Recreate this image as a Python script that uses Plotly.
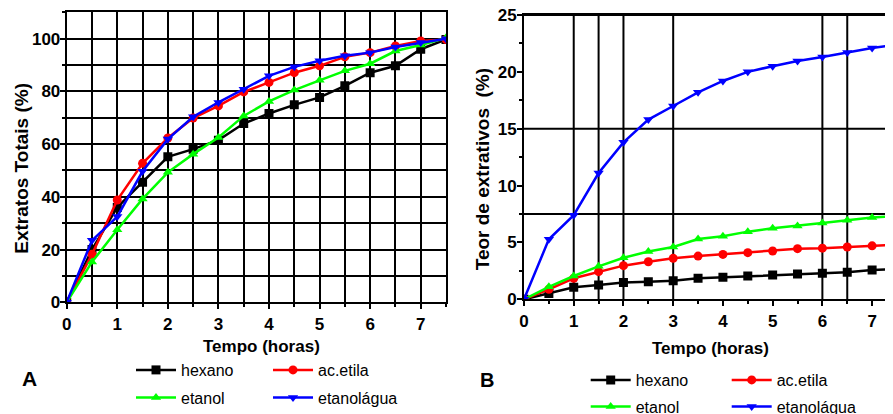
import plotly.graph_objects as go

# ---------------- data ----------------
tempo = [0, 0.5, 1, 1.5, 2, 2.5, 3, 3.5, 4, 4.5, 5, 5.5, 6, 6.5, 7, 7.5]
series_names = ["hexano", "ac.etila", "etanol", "etanolágua"]

# Panel A: Extratos Totais (%)
totais_hexano = [0, 20, 36, 45.5, 55.2, 58.1, 61.5, 67.8, 71.6, 74.9, 77.7, 82.1, 87.1, 89.7, 96, 99.7]
totais_acetila = [0, 18.2, 38.8, 52.7, 62.3, 69.9, 74.5, 79.8, 83.4, 87.1, 89.7, 93.1, 94.7, 97.2, 99.1, 99.7]
totais_etanol = [0, 15.3, 27.5, 39.2, 49.3, 56.2, 62.5, 70.7, 76.2, 80.5, 84.2, 87.8, 90.5, 95.3, 97.6, 100.3]
totais_etanolagua = [0, 23.5, 32.5, 49.7, 61.9, 70.4, 75.8, 80.8, 85.9, 89.3, 91.6, 93.5, 94.7, 96.8, 98.5, 100]

# Panel B: Teor de extrativos (%)
teor_hexano = [0, 0.5, 1.05, 1.26, 1.47, 1.55, 1.64, 1.85, 1.93, 2.05, 2.14, 2.23, 2.29, 2.37, 2.58, 2.64]
teor_acetila = [0, 0.88, 1.85, 2.43, 2.96, 3.3, 3.6, 3.8, 3.95, 4.1, 4.25, 4.45, 4.5, 4.6, 4.7, 4.8]
teor_etanol = [0, 1.1, 2.05, 2.9, 3.65, 4.2, 4.6, 5.3, 5.55, 5.95, 6.25, 6.45, 6.7, 6.95, 7.2, 7.3]
teor_etanolagua = [0, 5.28, 7.4, 11.1, 13.8, 15.8, 17.0, 18.2, 19.2, 20.0, 20.5, 20.95, 21.3, 21.7, 22.1, 22.4]

x_ticks = [0, 1, 2, 3, 4, 5, 6, 7]
ya_ticks = [0, 20, 40, 60, 80, 100]
yb_ticks = [0, 5, 10, 15, 20, 25]
# irregular grid of panel B
gridB_x = [1, 1.5, 2, 3, 6, 6.5]
gridB_y = [7.5, 15]

# ---------------- style ----------------
colors = ["#000000", "#ff0000", "#00ff00", "#0000ff"]
symbols = ["square", "circle", "triangle-up", "triangle-down"]
FR = "Liberation Sans, Arial, sans-serif"
W, H = 893, 414
OFF = 8  # page body margin in the browser

totais = [totais_hexano, totais_acetila, totais_etanol, totais_etanolagua]
teor = [teor_hexano, teor_acetila, teor_etanol, teor_etanolagua]

fig = go.Figure()
for i, name in enumerate(series_names):
    fig.add_trace(go.Scatter(
        x=tempo, y=totais[i], name=name, mode="lines+markers",
        line=dict(color=colors[i], width=2.5),
        marker=dict(symbol=symbols[i], size=9, color=colors[i]),
        xaxis="x", yaxis="y", legend="legend" if i < 2 else "legend2",
    ))
for i, name in enumerate(series_names):
    fig.add_trace(go.Scatter(
        x=tempo, y=teor[i], name=name, mode="lines+markers",
        line=dict(color=colors[i], width=2.5),
        marker=dict(symbol=symbols[i], size=9, color=colors[i]),
        xaxis="x2", yaxis="y2", legend="legend3" if i < 2 else "legend4",
    ))

tickfont = dict(family=FR, size=17, color="black", weight="bold")

def px_x(p):
    return (p - OFF) / W

def px_y(p):
    return 1 - (p - OFF) / H

common_axis = dict(showline=True, linecolor="black", linewidth=2, ticks="outside",
                   tickcolor="black", tickwidth=2, ticklen=5, tickfont=tickfont,
                   zeroline=False, automargin=False, ticklabeloverflow="allow")
GW = 2

fig.update_layout(
    template="none",
    width=W, height=H,
    margin=dict(l=0, r=0, t=0, b=0, autoexpand=False),
    paper_bgcolor="white", plot_bgcolor="white",
    xaxis=dict(domain=[px_x(66.7), px_x(446)], range=[0, 7.5], tickvals=x_ticks,
               showgrid=True, gridcolor="black", gridwidth=GW, mirror=True,
               minor=dict(dtick=0.5, showgrid=True, gridcolor="black", gridwidth=GW,
                          ticks="outside", ticklen=3, tickcolor="black", tickwidth=2),
               anchor="y", **common_axis),
    yaxis=dict(domain=[px_y(302.3), px_y(12.3)], range=[0, 110], tickvals=ya_ticks,
               showgrid=True, gridcolor="black", gridwidth=GW, mirror=True,
               ticklabelstandoff=-4,
               minor=dict(dtick=10, showgrid=True, gridcolor="black", gridwidth=GW,
                          ticks="outside", ticklen=3, tickcolor="black", tickwidth=2),
               anchor="x", **common_axis),
    xaxis2=dict(domain=[px_x(524), px_x(893)], range=[0, 7.42], tickvals=x_ticks,
                showgrid=False, mirror=True,
                minor=dict(dtick=0.5, ticks="outside", ticklen=3, tickcolor="black", tickwidth=2),
                anchor="y2", **common_axis),
    yaxis2=dict(domain=[px_y(299.3), px_y(15)], range=[0, 25], tickvals=yb_ticks,
                showgrid=False, mirror=False, ticklabelstandoff=-3,
                minor=dict(dtick=2.5, ticks="outside", ticklen=3, tickcolor="black", tickwidth=2),
                anchor="x2", **common_axis),
)

leg_common = dict(orientation="h", xanchor="left", yanchor="middle", itemwidth=40,
                  entrywidthmode="pixels", bgcolor="rgba(0,0,0,0)",
                  font=dict(family=FR, size=16, color="black"), traceorder="normal",
                  itemclick=False, itemdoubleclick=False)
fig.update_layout(
    legend=dict(x=px_x(131), y=px_y(370), entrywidth=82, **leg_common),
    legend2=dict(x=px_x(131), y=px_y(397.5), entrywidth=82, **leg_common),
    legend3=dict(x=px_x(585.7), y=px_y(380), entrywidth=86, **leg_common),
    legend4=dict(x=px_x(585.7), y=px_y(406.7), entrywidth=86, **leg_common),
)

shapes = []
for gx in gridB_x:
    shapes.append(dict(type="line", xref="x2", yref="y2 domain", x0=gx, x1=gx, y0=0, y1=1,
                       line=dict(color="black", width=GW), layer="below"))
for gy in gridB_y:
    shapes.append(dict(type="line", xref="x2 domain", yref="y2", x0=0, x1=1, y0=gy, y1=gy,
                       line=dict(color="black", width=GW), layer="below"))
# top frame line of panel B
shapes.append(dict(type="line", xref="x2 domain", yref="y2 domain", x0=0, x1=1, y0=1, y1=1,
                   line=dict(color="black", width=2), layer="above"))
fig.update_layout(shapes=shapes)

ann_font_b = dict(family=FR, size=17, color="black", weight="bold")
ann_font_rot = dict(family=FR, size=19, color="black", weight="bold")
annotations = [
    dict(text="Tempo (horas)", x=px_x(261.7), y=px_y(346), xref="paper", yref="paper",
         xanchor="center", yanchor="middle", showarrow=False, font=ann_font_b),
    dict(text="Tempo (horas)", x=px_x(710.8), y=px_y(348.5), xref="paper", yref="paper",
         xanchor="center", yanchor="middle", showarrow=False, font=ann_font_b),
    dict(text="Extratos Totais (%)", x=px_x(21.7), y=px_y(168), xref="paper", yref="paper",
         xanchor="center", yanchor="middle", showarrow=False, textangle=-90, font=ann_font_rot),
    dict(text="Teor de extrativos  (%)", x=px_x(483.3), y=px_y(169), xref="paper", yref="paper",
         xanchor="center", yanchor="middle", showarrow=False, textangle=-90, font=ann_font_rot),
    dict(text="A", x=px_x(29.7), y=px_y(378.5), xref="paper", yref="paper",
         xanchor="center", yanchor="middle", showarrow=False,
         font=dict(family=FR, size=21, color="black", weight="bold")),
    dict(text="B", x=px_x(486.7), y=px_y(380), xref="paper", yref="paper",
         xanchor="center", yanchor="middle", showarrow=False,
         font=dict(family=FR, size=20, color="black", weight="bold")),
]
fig.update_layout(annotations=annotations)

fig.write_html("out.html")
